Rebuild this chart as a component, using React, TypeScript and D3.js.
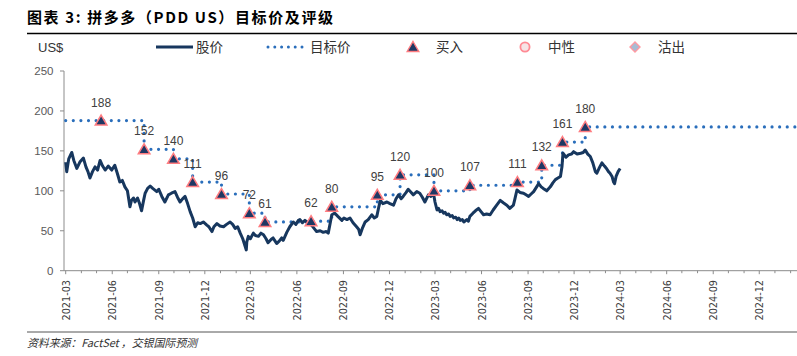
import React from "react";
import * as d3 from "d3";

const TITLE = "图表 3: 拼多多（PDD US）目标价及评级";
const SOURCE = "资料来源：FactSet ，交银国际预测";
const UNIT = "US$";
const LEGEND_LABELS = ["股价", "目标价", "买入", "中性", "沽出"];

const X_START = "2021-03-01";
const X_END = "2025-02-15";
const Y_TICKS = [0, 50, 100, 150, 200, 250];

// Share price (US$)
const priceSeries: [string, number][] = [
  ["2021-03-01", 136], ["2021-03-03", 124], ["2021-03-07", 140], ["2021-03-13", 148], ["2021-03-17", 138],
  ["2021-03-23", 128], ["2021-03-29", 136], ["2021-04-05", 141], ["2021-04-10", 130], ["2021-04-14", 124],
  ["2021-04-18", 116], ["2021-04-23", 124], ["2021-04-28", 130], ["2021-05-03", 126], ["2021-05-08", 138],
  ["2021-05-13", 131], ["2021-05-18", 126], ["2021-05-24", 131], ["2021-05-31", 126], ["2021-06-06", 132],
  ["2021-06-11", 122], ["2021-06-16", 111], ["2021-06-21", 113], ["2021-06-26", 105], ["2021-07-01", 100],
  ["2021-07-06", 80], ["2021-07-09", 88], ["2021-07-13", 91], ["2021-07-16", 86], ["2021-07-21", 91],
  ["2021-07-25", 84], ["2021-07-29", 75], ["2021-08-02", 88], ["2021-08-05", 97], ["2021-08-10", 103],
  ["2021-08-15", 106], ["2021-08-20", 103], ["2021-08-28", 99], ["2021-09-01", 102], ["2021-09-07", 93],
  ["2021-09-13", 86], ["2021-09-20", 95], ["2021-09-26", 97], ["2021-10-03", 99], ["2021-10-08", 92],
  ["2021-10-13", 86], ["2021-10-18", 90], ["2021-10-23", 93], ["2021-10-28", 84], ["2021-11-02", 74],
  ["2021-11-07", 66], ["2021-11-12", 55], ["2021-11-17", 60], ["2021-11-22", 59], ["2021-11-28", 61],
  ["2021-12-05", 57], ["2021-12-09", 55], ["2021-12-15", 49], ["2021-12-19", 55], ["2021-12-25", 59],
  ["2021-12-31", 56], ["2022-01-07", 55], ["2022-01-13", 58], ["2022-01-20", 61], ["2022-01-25", 58],
  ["2022-01-30", 53], ["2022-02-04", 55], ["2022-02-09", 47], ["2022-02-14", 40], ["2022-02-21", 26],
  ["2022-02-22", 36], ["2022-02-25", 43], ["2022-03-01", 40], ["2022-03-07", 47], ["2022-03-11", 44],
  ["2022-03-17", 43], ["2022-03-22", 47], ["2022-03-27", 45], ["2022-04-01", 40], ["2022-04-05", 35],
  ["2022-04-11", 39], ["2022-04-15", 41], ["2022-04-19", 37], ["2022-04-22", 34], ["2022-04-27", 37],
  ["2022-05-02", 41], ["2022-05-05", 38], ["2022-05-12", 48], ["2022-05-18", 55], ["2022-05-25", 61],
  ["2022-05-30", 58], ["2022-06-04", 63], ["2022-06-07", 64], ["2022-06-12", 60], ["2022-06-17", 63],
  ["2022-06-23", 60], ["2022-06-30", 57], ["2022-07-05", 53], ["2022-07-10", 49], ["2022-07-17", 50],
  ["2022-07-23", 48], ["2022-07-29", 49], ["2022-08-02", 47], ["2022-08-06", 60], ["2022-08-09", 70],
  ["2022-08-15", 72], ["2022-08-21", 68], ["2022-08-29", 63], ["2022-09-02", 66], ["2022-09-08", 64],
  ["2022-09-14", 66], ["2022-09-20", 60], ["2022-09-27", 55], ["2022-10-01", 52], ["2022-10-04", 45],
  ["2022-10-09", 54], ["2022-10-14", 61], ["2022-10-20", 64], ["2022-10-27", 70], ["2022-11-01", 66],
  ["2022-11-06", 68], ["2022-11-10", 80], ["2022-11-13", 88], ["2022-11-18", 84], ["2022-11-26", 86],
  ["2022-12-02", 84], ["2022-12-09", 82], ["2022-12-14", 90], ["2022-12-19", 95], ["2022-12-24", 90],
  ["2022-12-28", 93], ["2023-01-03", 98], ["2023-01-07", 102], ["2023-01-13", 98], ["2023-01-17", 95],
  ["2023-01-24", 99], ["2023-01-30", 97], ["2023-02-04", 92], ["2023-02-09", 86], ["2023-02-16", 95],
  ["2023-02-21", 93], ["2023-02-26", 97], ["2023-03-01", 86], ["2023-03-05", 76], ["2023-03-08", 78],
  ["2023-03-11", 74], ["2023-03-15", 75], ["2023-03-18", 72], ["2023-03-21", 73], ["2023-03-24", 70],
  ["2023-03-28", 71], ["2023-03-31", 68], ["2023-04-04", 69], ["2023-04-07", 66], ["2023-04-11", 67],
  ["2023-04-14", 64], ["2023-04-17", 66], ["2023-04-20", 63], ["2023-04-24", 64], ["2023-04-27", 61],
  ["2023-05-03", 64], ["2023-05-06", 62], ["2023-05-09", 68], ["2023-05-15", 72], ["2023-05-20", 75],
  ["2023-05-26", 78], ["2023-05-31", 74], ["2023-06-05", 70], ["2023-06-11", 71], ["2023-06-18", 70],
  ["2023-06-24", 76], ["2023-07-01", 82], ["2023-07-08", 88], ["2023-07-14", 85], ["2023-07-21", 82],
  ["2023-07-27", 78], ["2023-08-03", 82], ["2023-08-06", 90], ["2023-08-10", 101], ["2023-08-16", 98],
  ["2023-08-23", 97], ["2023-08-28", 95], ["2023-09-02", 93], ["2023-09-07", 96], ["2023-09-12", 99],
  ["2023-09-17", 104], ["2023-09-22", 109], ["2023-09-27", 105], ["2023-10-01", 103], ["2023-10-08", 100],
  ["2023-10-15", 105], ["2023-10-20", 110], ["2023-10-25", 114], ["2023-10-30", 116], ["2023-11-04", 118],
  ["2023-11-07", 130], ["2023-11-09", 147], ["2023-11-15", 142], ["2023-11-20", 145], ["2023-11-26", 146],
  ["2023-11-30", 149], ["2023-12-07", 146], ["2023-12-14", 147], ["2023-12-19", 148], ["2023-12-23", 151],
  ["2023-12-28", 146], ["2024-01-02", 143], ["2024-01-07", 135], ["2024-01-12", 124], ["2024-01-15", 122],
  ["2024-01-20", 129], ["2024-01-25", 135], ["2024-01-30", 131], ["2024-02-03", 128], ["2024-02-07", 124],
  ["2024-02-10", 122], ["2024-02-14", 118], ["2024-02-17", 111], ["2024-02-19", 109], ["2024-02-22", 118],
  ["2024-02-26", 124], ["2024-03-01", 128],
];

// Rating actions (all 买入) and target prices
const ratingDates = [
  "2021-05-10", "2021-08-03", "2021-09-30", "2021-11-07", "2022-01-03", "2022-02-27",
  "2022-03-30", "2022-06-29", "2022-08-09", "2022-11-07", "2022-12-22", "2023-02-27",
  "2023-05-09", "2023-08-11", "2023-09-28", "2023-11-08", "2023-12-23",
];
const ratingTargets = [188, 152, 140, 111, 96, 72, 61, 62, 80, 95, 120, 100, 107, 111, 132, 161, 180];
const initialTarget = 188;

const parse = d3.timeParse("%Y-%m-%d");

const W = 797;
const H = 356;

const x = d3.scaleTime().domain([parse(X_START)!, parse(X_END)!]).range([65.7, 797.7]);
const y = d3.scaleLinear().domain([0, 250]).range([270.7, 71]);

const NAVY = "#17375e";
const DOT = "#2a6ebb";
const MK_FILL = "#1f3864";
const MK_STROKE = "#ff7c80";
const AXIS = "#8c8c8c";
const FONT_NUM = "'Liberation Sans', Arial, sans-serif";
const FONT_CJK = "'Noto Sans CJK SC', 'Noto Sans', sans-serif";

const triPath = "M0,-5.5L5.8,4.5L-5.8,4.5Z";

export default function App() {
  const priceLine = d3
    .line<[string, number]>()
    .x((d) => x(parse(d[0])!))
    .y((d) => y(d[1]));

  const targetPts: [Date, number][] = [[parse(X_START)!, initialTarget]];
  ratingDates.forEach((d, i) => targetPts.push([parse(d)!, ratingTargets[i]]));
  targetPts.push([parse(X_END)!, ratingTargets[ratingTargets.length - 1]]);
  const targetLine = d3
    .line<[Date, number]>()
    .x((d) => x(d[0]))
    .y((d) => y(d[1]))
    .curve(d3.curveStepAfter);

  const months = d3.timeMonth.range(parse(X_START)!, parse(X_END)!);
  const majors = months.filter((m) => m.getMonth() % 3 === 2);
  const fmt = d3.timeFormat("%Y-%m");
  const y0 = y(0);

  return (
    <svg
      width={W}
      height={H}
      style={{ position: "absolute", left: 0, top: 0, background: "#fff" }}
    >
      <rect x={0} y={0} width={W} height={H} fill="#fff" />
      {/* Title */}
      <text
        x={27}
        y={23}
        fontFamily={FONT_CJK}
        fontWeight={700}
        fontSize={15}
        fill="#000"
        textLength={306}
        lengthAdjust="spacing"
      >
        {TITLE}
      </text>
      <line x1={27} x2={W} y1={33.5} y2={33.5} stroke="#000" strokeWidth={1.5} />

      {/* Legend */}
      <text x={38} y={52} fontFamily={FONT_NUM} fontSize={13} fill="#333">
        {UNIT}
      </text>
      <line x1={156} x2={193} y1={47} y2={47} stroke={NAVY} strokeWidth={3} />
      <text x={196} y={52} fontFamily={FONT_CJK} fontSize={13.5} fill="#333">
        {LEGEND_LABELS[0]}
      </text>
      <line
        x1={268}
        x2={303}
        y1={47}
        y2={47}
        stroke={DOT}
        strokeWidth={3}
        strokeDasharray="0 6.8"
        strokeLinecap="round"
      />
      <text x={310} y={52} fontFamily={FONT_CJK} fontSize={13.5} fill="#333">
        {LEGEND_LABELS[1]}
      </text>
      <path d={triPath} transform="translate(413,47)" fill={MK_FILL} stroke={MK_STROKE} strokeWidth={1.4} />
      <text x={436} y={52} fontFamily={FONT_CJK} fontSize={13.5} fill="#333">
        {LEGEND_LABELS[2]}
      </text>
      <circle cx={525} cy={47} r={4.6} fill="#f6e4e6" stroke="#ff8a94" strokeWidth={1.8} />
      <text x={548} y={52} fontFamily={FONT_CJK} fontSize={13.5} fill="#333">
        {LEGEND_LABELS[3]}
      </text>
      <path d="M0,-5L5,0L0,5L-5,0Z" transform="translate(635,47)" fill="#a7bcd4" stroke="#ff9aa2" strokeWidth={1.4} />
      <text x={658} y={52} fontFamily={FONT_CJK} fontSize={13.5} fill="#333">
        {LEGEND_LABELS[4]}
      </text>

      {/* Y axis */}
      <line x1={64} x2={64} y1={y(250)} y2={y0} stroke={AXIS} strokeWidth={1} />
      {Y_TICKS.map((t) => (
        <g key={t}>
          <line x1={60} x2={64} y1={y(t)} y2={y(t)} stroke={AXIS} strokeWidth={1} />
          <text
            x={53.5}
            y={y(t)}
            dy="0.36em"
            textAnchor="end"
            fontFamily={FONT_NUM}
            fontSize={11.5}
            fill="#595959"
          >
            {t}
          </text>
        </g>
      ))}

      {/* X axis */}
      <line x1={64} x2={W} y1={y0} y2={y0} stroke={AXIS} strokeWidth={1} />
      {months.map((m) => {
        const isMajor = m.getMonth() % 3 === 2;
        return (
          <line
            key={m.toISOString()}
            x1={x(m)}
            x2={x(m)}
            y1={y0}
            y2={y0 + (isMajor ? 3.5 : 2.5)}
            stroke={AXIS}
            strokeWidth={1}
          />
        );
      })}
      {majors.map((m) => (
        <text
          key={"l" + m.toISOString()}
          transform={`translate(${x(m) + 0.5},280) rotate(-90)`}
          textAnchor="end"
          dominantBaseline="central"
          fontFamily="'DejaVu Sans', Verdana, sans-serif"
          fontSize={9.7}
          fill="#404040"
        >
          {fmt(m)}
        </text>
      ))}

      {/* Target price dotted step line */}
      <path
        d={targetLine(targetPts) || ""}
        fill="none"
        stroke={DOT}
        strokeWidth={3.2}
        strokeDasharray="0 7.6"
        strokeLinecap="round"
      />

      {/* Share price */}
      <path
        d={priceLine(priceSeries) || ""}
        fill="none"
        stroke={NAVY}
        strokeWidth={3}
        strokeLinejoin="round"
      />

      {/* Rating markers & labels */}
      {ratingDates.map((d, i) => {
        const px = x(parse(d)!);
        const py = y(ratingTargets[i]);
        return (
          <g key={d}>
            <path
              d={triPath}
              transform={`translate(${px},${py})`}
              fill={MK_FILL}
              stroke={MK_STROKE}
              strokeWidth={1.5}
            />
            <text
              x={px}
              y={py - 14}
              textAnchor="middle"
              fontFamily={FONT_NUM}
              fontSize={12}
              fill="#404040"
            >
              {ratingTargets[i]}
            </text>
          </g>
        );
      })}

      {/* Footer */}
      <line x1={27} x2={W} y1={332} y2={332} stroke="#555" strokeWidth={1} />
      <text
        x={27}
        y={347}
        fontFamily={FONT_CJK}
        fontStyle="italic"
        fontSize={11}
        fill="#333"
        textLength={170}
        lengthAdjust="spacing"
      >
        {SOURCE}
      </text>
    </svg>
  );
}
